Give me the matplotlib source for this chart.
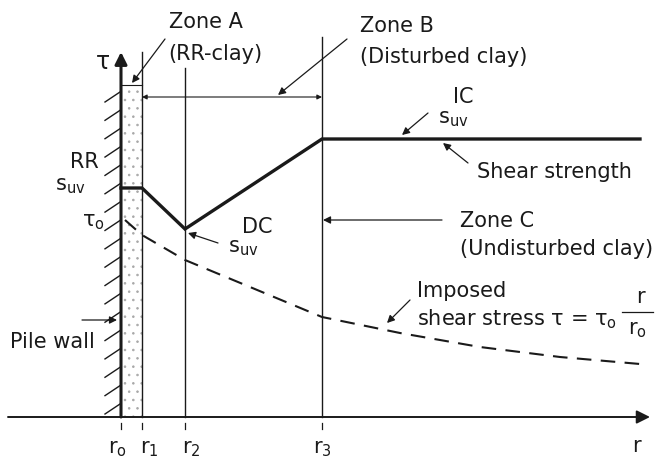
import numpy as np
import matplotlib
matplotlib.use("Agg")
import matplotlib.pyplot as plt
from matplotlib.patches import Rectangle

plt.rcParams['font.family'] = ['DejaVu Sans']
plt.rcParams['mathtext.fontset'] = 'dejavusans'
plt.rcParams['hatch.linewidth'] = 0.6

# schematic data (r measured from pile wall, tau above r-axis)
r_marks = [0, 21, 64, 201]
r_labels = [r'$\mathregular{r_o}$', r'$\mathregular{r_1}$', r'$\mathregular{r_2}$', r'$\mathregular{r_3}$']
r_label_x = [-13, 19, 61, 192]
zone_line_top = [365, 349, 380]          # tops of the r1, r2, r3 lines
zone_a_top = 332

strength_r = [0, 21, 64, 201, 519]
strength_tau = [229, 229, 188, 278, 278]

stress_r = [4, 21, 64, 129, 201, 279, 359, 439, 519]
stress_tau = [197, 182, 157, 130, 100, 84, 70, 60, 53]

INK = '#1a1a1a'
FS = 15

fig = plt.figure(figsize=(6.56, 4.63), dpi=100)
ax = fig.add_axes([0, 0, 1, 1])
ax.set_xlim(-121, 535)
ax.set_ylim(-46, 417)
ax.axis('off')


def arrow(x0, y0, x1, y1, lw=0.9, ms=11, style='-|>'):
    ax.annotate('', xy=(x1, y1), xytext=(x0, y0),
                arrowprops=dict(arrowstyle=style, color=INK, lw=lw,
                                mutation_scale=ms, shrinkA=0, shrinkB=0))


# zone A band (stippled)
ax.add_patch(Rectangle((0, 0), r_marks[1], zone_a_top, facecolor='none',
                       edgecolor='#a8a8a8', hatch='..', lw=0))
ax.plot([0, r_marks[1]], [zone_a_top, zone_a_top], color=INK, lw=0.8)

# zone boundary lines
for x, top in zip(r_marks[1:], zone_line_top):
    ax.plot([x, x], [0, top], color=INK, lw=1.0)

# pile wall hatching
for y in np.linspace(320, 8, 18):
    ax.plot([-16, -1], [y - 5, y + 5], color=INK, lw=1.0)

# axes
arrow(-113, 0, 529, 0, lw=1.4, ms=20)
arrow(0, 0, 0, 365, lw=2.2, ms=18)

# ticks and tick labels
for x, lab, lx in zip(r_marks, r_labels, r_label_x):
    ax.plot([x, x], [-6, -12], color=INK, lw=0.9)
    ax.text(lx, -36, lab, fontsize=FS, color=INK, ha='left', va='baseline')
ax.text(511, -35, 'r', fontsize=FS, color=INK, ha='left', va='baseline')
ax.text(-18, 355, 'τ', fontsize=17, color=INK, ha='center', va='center')

# dimension line of zone B
arrow(r_marks[1], 320, r_marks[3], 320, lw=0.8, ms=7, style='<|-|>')

# shear strength and imposed stress
ax.plot(strength_r, strength_tau, color=INK, lw=2.4, solid_joinstyle='miter')
ax.plot(stress_r, stress_tau, color=INK, lw=1.5, dashes=(7, 4.5))

# labels
ax.text(48, 389, 'Zone A', fontsize=FS, color=INK, va='baseline')
ax.text(47, 357, '(RR-clay)', fontsize=FS, color=INK, va='baseline')
arrow(44, 378, 11, 334)

ax.text(239, 385, 'Zone B', fontsize=FS, color=INK, va='baseline')
ax.text(239, 354, '(Disturbed clay)', fontsize=FS, color=INK, va='baseline')
arrow(226, 378, 157, 322)

ax.text(332, 314, 'IC', fontsize=FS, color=INK, va='baseline')
ax.text(317, 294, r'$\mathregular{s_{uv}}$', fontsize=FS, color=INK, va='baseline')
arrow(307, 304, 281, 282)

ax.text(356, 239, 'Shear strength', fontsize=FS, color=INK, va='baseline')
arrow(347, 254, 322, 274)

ax.text(339, 190, 'Zone C', fontsize=FS, color=INK, va='baseline')
ax.text(339, 162, '(Undisturbed clay)', fontsize=FS, color=INK, va='baseline')
arrow(321, 197, 202, 197)

ax.text(121, 184, 'DC', fontsize=FS, color=INK, va='baseline')
ax.text(107, 165, r'$\mathregular{s_{uv}}$', fontsize=FS, color=INK, va='baseline')
arrow(97, 174, 67, 184)

ax.text(-51, 249, 'RR', fontsize=FS, color=INK, va='baseline')
ax.text(-66, 227, r'$\mathregular{s_{uv}}$', fontsize=FS, color=INK, va='baseline')
ax.text(-39, 191, r'$\mathregular{τ_o}$', fontsize=FS, color=INK, va='baseline')

ax.text(-111, 69, 'Pile wall', fontsize=FS, color=INK, va='baseline')
arrow(-39, 97, -4, 97)

ax.text(296, 120, 'Imposed', fontsize=FS, color=INK, va='baseline')
ax.text(296, 92, r'shear stress τ = $\mathregular{τ_o}$', fontsize=FS, color=INK, va='baseline')
ax.text(519, 114, 'r', fontsize=FS, color=INK, ha='center', va='baseline')
ax.plot([501, 532], [105, 105], color=INK, lw=0.9)
ax.text(507, 83, r'$\mathregular{r_o}$', fontsize=FS, color=INK, ha='left', va='baseline')
arrow(289, 117, 266, 94)

fig.savefig('out.png', dpi=100, facecolor='white')
